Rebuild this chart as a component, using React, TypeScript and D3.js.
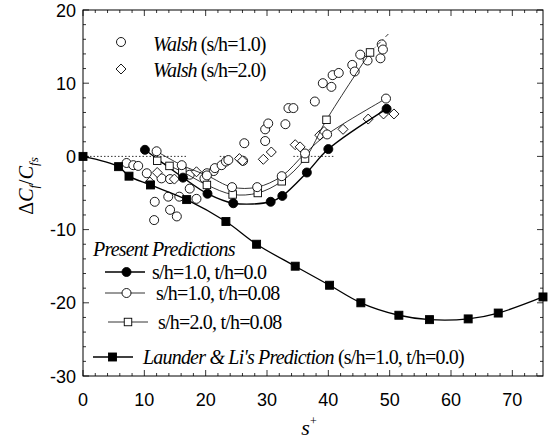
import React from "react";
import * as d3 from "d3";

const xTicks = [0, 10, 20, 30, 40, 50, 60, 70];
const yTicks = [-30, -20, -10, 0, 10, 20];

const launderX = [0, 5.8, 7.5, 11, 16.9, 23.3, 28.3, 34.6, 40.2, 45.3, 51.5, 56.5, 62.8, 67.7, 75];
const launderY = [0, -1.4, -2.7, -3.9, -5.9, -8.9, -12.0, -15.0, -17.6, -20.0, -21.7, -22.3, -22.2, -21.4, -19.2];

const predFilledX = [10.1, 16.3, 20.3, 24.5, 30.6, 32.5, 36.5, 40.0, 49.5];
const predFilledY = [0.9, -2.9, -5.1, -6.4, -6.2, -5.4, -2.2, 1.0, 6.5];

const predOpenX = [12.0, 16.1, 20.2, 24.3, 28.4, 32.4, 36.2, 39.8, 49.4];
const predOpenY = [0.7, -1.2, -2.6, -4.2, -4.2, -2.7, 0.4, 3.0, 7.9];

const predSquareX = [12.1, 14.1, 16.2, 20.2, 24.4, 28.5, 32.4, 36.2, 39.7, 46.8];
const predSquareY = [-0.6, -1.3, -2.1, -3.9, -5.2, -5.0, -3.4, -0.3, 5.0, 14.2];
const predSquareExtX = [46.8, 50.0];
const predSquareExtY = [14.2, 16.9];

const walsh1X = [7.1, 8.2, 9.0, 10.4, 11.7, 11.6, 12.8, 14.2, 13.9, 14.2, 15.3, 15.7, 17.4, 18.5, 17.4, 19.8, 20.2, 21.3, 21.5, 22.6, 23.3, 23.7, 26.1, 26.3, 29.7, 29.7, 30.2, 33.0, 33.5, 34.3, 37.8, 39.1, 40.5, 40.7, 41.7, 43.9, 44.3, 45.2, 46.4, 48.5, 48.7, 48.9];
const walsh1Y = [-0.9, -1.2, -1.3, -2.3, -6.2, -8.7, -3.0, -3.1, -5.5, -7.3, -8.2, -5.5, -4.4, -5.8, -2.5, -3.0, -2.3, -2.0, -1.6, -1.2, -0.7, -0.5, -0.6, 1.8, 2.1, 3.7, 4.5, 4.4, 6.6, 6.6, 7.5, 10.0, 9.5, 11.1, 11.4, 12.5, 11.6, 13.9, 13.1, 13.4, 15.3, 14.6];

const walsh2X = [10.9, 12.1, 14.9, 18.5, 25.5, 26.0, 29.4, 30.7, 34.6, 35.4, 38.6, 39.3, 42.4, 46.5, 49.0, 50.7];
const walsh2Y = [-3.5, -2.2, -3.1, -2.1, -0.3, -0.6, -0.4, 0.6, 1.6, 1.3, 2.9, 3.4, 3.7, 5.1, 5.8, 5.8];

const zeroSegStart = [0, 22.3, 34.3];
const zeroSegEnd = [16.8, 23.8, 41.0];

const W = 549, H = 448;
const L = 83, R = 543, T = 10, B = 376;

const x = d3.scaleLinear().domain([0, 75]).range([L, R]);
const y = d3.scaleLinear().domain([-30, 20]).range([B, T]);

const zip = (xs: number[], ys: number[]) => xs.map((v, i) => [v, ys[i]] as [number, number]);

const lineSmooth = d3.line<[number, number]>().x(d => x(d[0])).y(d => y(d[1])).curve(d3.curveCatmullRom.alpha(0.5));
const lineStraight = d3.line<[number, number]>().x(d => x(d[0])).y(d => y(d[1]));

const SERIF = "'Liberation Serif', 'Times New Roman', serif";
const SANS = "'Liberation Sans', Arial, sans-serif";

function Circle({ cx, cy, fill, r = 4.5 }: { cx: number; cy: number; fill: string; r?: number }) {
  return <circle cx={cx} cy={cy} r={r} fill={fill} stroke="#000" strokeWidth={0.9} />;
}
function Square({ cx, cy, fill, s = 8 }: { cx: number; cy: number; fill: string; s?: number }) {
  return <rect x={cx - s / 2} y={cy - s / 2} width={s} height={s} fill={fill} stroke="#000" strokeWidth={0.9} />;
}
function Diamond({ cx, cy, s = 5 }: { cx: number; cy: number; s?: number }) {
  return <path d={`M${cx},${cy - s}L${cx + s},${cy}L${cx},${cy + s}L${cx - s},${cy}Z`} fill="#fff" stroke="#000" strokeWidth={0.9} />;
}

export default function App() {
  const minorX = d3.range(0, 76, 2);
  const minorY = d3.range(-30, 21, 2);
  const launder = zip(launderX, launderY);
  const pf = zip(predFilledX, predFilledY);
  const po = zip(predOpenX, predOpenY);
  const ps = zip(predSquareX, predSquareY);
  const w1 = zip(walsh1X, walsh1Y);
  const w2 = zip(walsh2X, walsh2Y);

  return (
    <svg width={W} height={H} style={{ position: "absolute", left: 0, top: 0, background: "#fff" }}>
      <rect x={0} y={0} width={W} height={H} fill="#fff" />
      {zeroSegStart.map((s, i) => (
        <line key={"z" + i} x1={x(s)} x2={x(zeroSegEnd[i])} y1={y(0)} y2={y(0)} stroke="#000" strokeWidth={0.8} strokeDasharray="1.5,2" />
      ))}
      <rect x={L} y={T} width={R - L} height={B - T} fill="none" stroke="#000" strokeWidth={1} />
      {minorX.map(v => {
        const major = v % 10 === 0;
        const len = major ? 6 : 3;
        return (
          <g key={"tx" + v}>
            <line x1={x(v)} x2={x(v)} y1={B} y2={B - len} stroke="#000" strokeWidth={0.8} />
            <line x1={x(v)} x2={x(v)} y1={T} y2={T + len} stroke="#000" strokeWidth={0.8} />
          </g>
        );
      })}
      {minorY.map(v => {
        const major = v % 10 === 0;
        const len = major ? 6 : 3;
        return (
          <g key={"ty" + v}>
            <line x1={L} x2={L + len} y1={y(v)} y2={y(v)} stroke="#000" strokeWidth={0.8} />
            <line x1={R} x2={R - len} y1={y(v)} y2={y(v)} stroke="#000" strokeWidth={0.8} />
          </g>
        );
      })}
      {xTicks.map(v => (
        <text key={"lx" + v} x={x(v)} y={406} textAnchor="middle" fontFamily={SANS} fontSize={18}>{v}</text>
      ))}
      {yTicks.map(v => (
        <text key={"ly" + v} x={76} y={y(v) + 6.5} textAnchor="end" fontFamily={SANS} fontSize={18}>{v}</text>
      ))}
      <text transform={`translate(33,${186}) rotate(-90)`} textAnchor="middle" fontFamily={SERIF} fontSize={20}>
        <tspan>Δ</tspan><tspan fontStyle="italic">C</tspan><tspan fontStyle="italic" fontSize={13} dy={5}>f</tspan>
        <tspan dy={-5}>/</tspan><tspan fontStyle="italic">C</tspan><tspan fontStyle="italic" fontSize={13} dy={5}>fs</tspan>
      </text>
      <text x={309} y={435} textAnchor="middle" fontFamily={SERIF} fontSize={22} fontStyle="italic">
        s<tspan fontStyle="normal" fontSize={12} dy={-10}>+</tspan>
      </text>

      {w1.map((d, i) => <Circle key={"w1" + i} cx={x(d[0])} cy={y(d[1])} fill="#fff" />)}
      {w2.map((d, i) => <Diamond key={"w2" + i} cx={x(d[0])} cy={y(d[1])} />)}

      <path d={lineSmooth(launder) || ""} fill="none" stroke="#000" strokeWidth={1.3} />
      {launder.map((d, i) => <Square key={"la" + i} cx={x(d[0])} cy={y(d[1])} fill="#000" />)}

      <path d={lineSmooth(ps) || ""} fill="none" stroke="#000" strokeWidth={0.8} />
      <path d={lineStraight(zip(predSquareExtX, predSquareExtY)) || ""} fill="none" stroke="#000" strokeWidth={0.8} strokeDasharray="4,3,1,3" />
      <path d={lineSmooth(po) || ""} fill="none" stroke="#000" strokeWidth={0.8} />
      <path d={lineSmooth(pf) || ""} fill="none" stroke="#000" strokeWidth={1.4} />
      {ps.map((d, i) => <Square key={"ps" + i} cx={x(d[0])} cy={y(d[1])} fill="#fff" s={7.5} />)}
      {po.map((d, i) => <Circle key={"po" + i} cx={x(d[0])} cy={y(d[1])} fill="#fff" />)}
      {pf.map((d, i) => <Circle key={"pf" + i} cx={x(d[0])} cy={y(d[1])} fill="#000" />)}

      <Circle cx={121} cy={42} fill="#fff" />
      <text x={153} y={51} fontFamily={SERIF} fontSize={20} letterSpacing={-0.9}>
        <tspan fontStyle="italic">Walsh</tspan> (s/h=1.0)
      </text>
      <Diamond cx={121} cy={69} />
      <text x={153} y={77} fontFamily={SERIF} fontSize={20} letterSpacing={-0.9}>
        <tspan fontStyle="italic">Walsh</tspan> (s/h=2.0)
      </text>

      <text x={93} y={256} fontFamily={SERIF} fontSize={20} fontStyle="italic" letterSpacing={-0.8}>Present Predictions</text>
      <line x1={105} x2={145} y1={272} y2={272} stroke="#000" strokeWidth={1.4} />
      <Circle cx={126.5} cy={272} fill="#000" />
      <text x={152} y={278.5} fontFamily={SERIF} fontSize={20} letterSpacing={-0.8}>s/h=1.0, t/h=0.0</text>
      <line x1={105} x2={145} y1={293} y2={293} stroke="#000" strokeWidth={0.8} />
      <Circle cx={126.5} cy={293} fill="#fff" />
      <text x={156} y={299.5} fontFamily={SERIF} fontSize={20} letterSpacing={-0.8}>s/h=1.0, t/h=0.08</text>
      <line x1={108} x2={148} y1={322} y2={322} stroke="#000" strokeWidth={0.8} />
      <Square cx={128} cy={322} fill="#fff" s={7.5} />
      <text x={158} y={328.5} fontFamily={SERIF} fontSize={20} letterSpacing={-0.8}>s/h=2.0, t/h=0.08</text>
      <line x1={93} x2={133} y1={357} y2={357} stroke="#000" strokeWidth={1.3} />
      <Square cx={112.5} cy={357} fill="#000" />
      <text x={143} y={363.5} fontFamily={SERIF} fontSize={20} letterSpacing={-0.8}>
        <tspan fontStyle="italic">Launder &amp; Li's Prediction</tspan> (s/h=1.0, t/h=0.0)
      </text>
    </svg>
  );
}
